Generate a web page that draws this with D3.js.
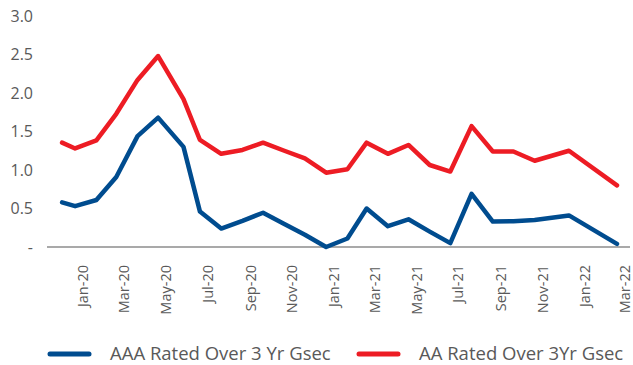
<!DOCTYPE html>
<html>
<head>
<meta charset="utf-8">
<script src="https://cdn.jsdelivr.net/npm/d3@7/dist/d3.min.js"></script>
<style>
  html, body { margin: 0; padding: 0; background: #fff; }
  svg { display: block; font-family: "Open Sans", sans-serif; }
</style>
</head>
<body>
<svg id="chart" width="633" height="365"></svg>
<script>
// Observation dates (UTC) and spreads in percentage points
const dates = [
  "2019-12-13", "2020-01-01", "2020-02-01", "2020-03-01", "2020-04-01", "2020-05-01",
  "2020-06-07", "2020-07-01", "2020-08-01", "2020-09-01", "2020-10-01", "2020-11-01",
  "2020-12-01", "2021-01-01", "2021-02-01", "2021-03-01", "2021-04-01", "2021-05-01",
  "2021-06-01", "2021-07-01", "2021-08-01", "2021-09-01", "2021-10-01", "2021-11-01",
  "2021-12-21", "2022-03-01"
];
const aaaSpread = [
  0.58, 0.53, 0.61, 0.91, 1.44, 1.68,
  1.30, 0.46, 0.24, 0.34, 0.445, 0.30,
  0.16, 0.00, 0.11, 0.50, 0.27, 0.36,
  0.20, 0.05, 0.69, 0.33, 0.335, 0.35,
  0.41, 0.04
];
const aaSpread = [
  1.355, 1.28, 1.385, 1.73, 2.17, 2.48,
  1.92, 1.39, 1.21, 1.26, 1.355, 1.25,
  1.15, 0.965, 1.01, 1.355, 1.21, 1.325,
  1.065, 0.98, 1.57, 1.24, 1.24, 1.12,
  1.25, 0.80
];
const seriesNames = ["AAA Rated Over 3 Yr Gsec", "AA Rated Over 3Yr Gsec"];
const seriesColors = ["#004C8F", "#ED1C24"];
const yTicks = [0, 0.5, 1.0, 1.5, 2.0, 2.5, 3.0];
const xDomain = ["2019-11-21", "2022-03-20"];

const parse = d3.utcParse("%Y-%m-%d");
const svg = d3.select("#chart");

const x = d3.scaleUtc().domain(xDomain.map(parse)).range([47, 630]);
const y = d3.scaleLinear().domain([0, 3]).range([247, 16]);

const textColor = "#595959";

// y-axis labels (no axis line or gridlines)
svg.append("g")
  .selectAll("text")
  .data(yTicks)
  .join("text")
  .attr("x", 33)
  .attr("y", d => y(d))
  .attr("dy", "0.35em")
  .attr("text-anchor", "end")
  .attr("font-size", 16)
  .attr("fill", textColor)
  .text(d => d === 0 ? "-" : d.toFixed(1));

// baseline
svg.append("line")
  .attr("x1", x.range()[0]).attr("x2", x.range()[1])
  .attr("y1", y(0)).attr("y2", y(0))
  .attr("stroke", "#8c8c8c")
  .attr("stroke-width", 1.5);

// bi-monthly rotated month labels
const monthTicks = d3.utcMonth.every(2).range(parse("2020-01-01"), parse("2022-03-02"));
const fmt = d3.utcFormat("%b-%y");
svg.append("g")
  .selectAll("text")
  .data(monthTicks)
  .join("text")
  .attr("transform", d => `translate(${x(d) + 8},265) rotate(-90)`)
  .attr("dy", "0.35em")
  .attr("text-anchor", "end")
  .attr("font-size", 14.5)
  .attr("fill", textColor)
  .text(d => fmt(d));

// series lines
const pts = s => dates.map((d, i) => [parse(d), s[i]]);
const line = d3.line().x(d => x(d[0])).y(d => y(d[1])).curve(d3.curveLinear);

[aaSpread, aaaSpread].forEach((s, k) => {
  svg.append("path")
    .datum(pts(s))
    .attr("d", line)
    .attr("fill", "none")
    .attr("stroke", seriesColors[1 - k])
    .attr("stroke-width", 4.5)
    .attr("stroke-linejoin", "round")
    .attr("stroke-linecap", "round");
});

// legend
const legend = svg.append("g");
const legendItems = [
  { name: seriesNames[0], color: seriesColors[0], x: 48 },
  { name: seriesNames[1], color: seriesColors[1], x: 357 }
];
legendItems.forEach(it => {
  legend.append("line")
    .attr("x1", it.x + 2).attr("x2", it.x + 41)
    .attr("y1", 354).attr("y2", 354)
    .attr("stroke", it.color)
    .attr("stroke-width", 5)
    .attr("stroke-linecap", "round");
  legend.append("text")
    .attr("x", it.x + 62)
    .attr("y", 354)
    .attr("dy", "0.35em")
    .attr("font-size", 18.5)
    .attr("fill", textColor)
    .text(it.name);
});
</script>
</body>
</html>
